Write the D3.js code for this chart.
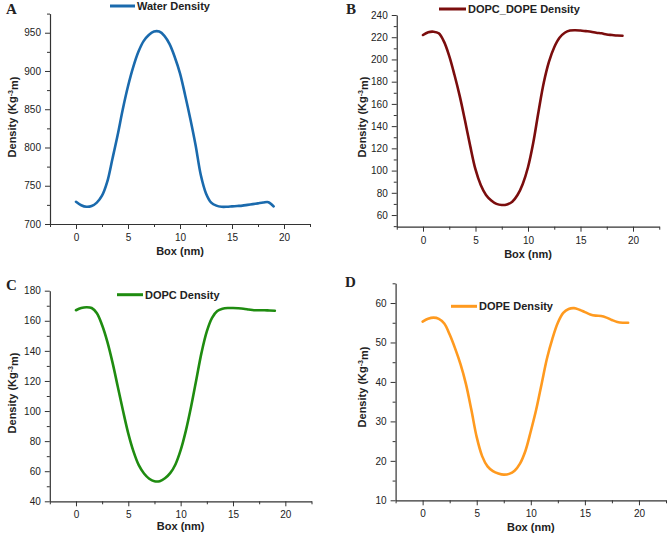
<!DOCTYPE html>
<html>
<head>
<meta charset="utf-8">
<script src="https://cdn.jsdelivr.net/npm/d3@7"></script>
<style>
  html, body { margin: 0; padding: 0; background: #fff; }
  svg { display: block; }
  text { font-family: "Liberation Sans", Arial, sans-serif; fill: #222; }
</style>
</head>
<body>
<svg id="chart" width="668" height="537"></svg>
<script>
// ---- Data ----
const boxNm = [0,0.5,1,1.5,2,2.5,3,3.5,4,4.5,5,5.5,6,6.5,7,7.5,8,8.5,9,9.5,10,10.5,11,11.5,12,12.5,13,13.5,14,14.5,15,15.5,16,16.5,17,17.5,18,18.5,19];

const waterDensity = [729,724.5,722.5,723.5,728,737,755,785,816,850,880,905,925,939,947,951.5,951.5,946,935,918,897,868,837,803,764,740,728,724,722.5,722.5,723,723.5,724,725,726,727,728,728.5,723];

const dopcDopeDensity = [222,224.5,225,223.5,216,203,186,167,145,122,101,87,78,73,70,69,69.5,72,78,88,103,125,153,179,198,211,219.5,224,226,226.3,226,225.5,225,224,223.5,222.5,222,221.5,221.3];

const dopcDensity = [167,168.5,169,168.5,165,157,146,132,116,100,85,73,64,58.5,55,53.3,53.4,55.3,58.7,64.5,74,87,103,121,139,153,162,166.5,168,168.5,168.5,168.3,168,167.5,167,167,167,166.8,166.7];

const dopeDensity = [55.3,56,56.3,56,54.8,52,48.5,44.5,39.5,33,26,21.2,18.6,17.4,16.8,16.5,16.7,17.5,19.3,22.5,27.5,33,39.5,46,51,55,57.5,58.5,58.7,58.3,57.7,57.1,56.8,56.7,56.3,55.7,55.2,55,55];

const seriesNames = ["Water Density", "DOPC_DOPE Density", "DOPC Density", "DOPE Density"];
const panelLetters = ["A", "B", "C", "D"];
const xTickValues = [0, 5, 10, 15, 20];
const xMinorTicks = [-2.5, 2.5, 7.5, 12.5, 17.5, 22.5];
const yTicksA = [700, 750, 800, 850, 900, 950];
const yMinorA = [725, 775, 825, 875, 925, 975];
const yTicksB = [60, 80, 100, 120, 140, 160, 180, 200, 220, 240];
const yMinorB = [50, 70, 90, 110, 130, 150, 170, 190, 210, 230];
const yTicksC = [40, 60, 80, 100, 120, 140, 160, 180];
const yMinorC = [50, 70, 90, 110, 130, 150, 170];
const yTicksD = [10, 20, 30, 40, 50, 60];
const yMinorD = [15, 25, 35, 45, 55, 65];

// ---- Layout ----
const panels = [
  { values: waterDensity, name: seriesNames[0], letter: panelLetters[0], color: "#1a6aad",
    yDomain: [700, 975], yTicks: yTicksA, yMinor: yMinorA,
    x0: 50, x1: 310, y0: 224, y1: 13.6,
    letterPos: [6, 14], legend: [110, 135, 6], yTitle: [12, 117], xTitleY: 255 },
  { values: dopcDopeDensity, name: seriesNames[1], letter: panelLetters[1], color: "#7b0d0d",
    yDomain: [49.5, 240], yTicks: yTicksB, yMinor: yMinorB,
    x0: 396.75, x1: 659.25, y0: 226.7, y1: 15,
    letterPos: [346, 14], legend: [439, 466, 9], yTitle: [362, 117], xTitleY: 258 },
  { values: dopcDensity, name: seriesNames[2], letter: panelLetters[2], color: "#1f8c10",
    yDomain: [40, 180], yTicks: yTicksC, yMinor: yMinorC,
    x0: 49.8, x1: 311.5, y0: 501.3, y1: 290.7,
    letterPos: [6, 290], legend: [117, 143, 294.7], yTitle: [12, 393], xTitleY: 530 },
  { values: dopeDensity, name: seriesNames[3], letter: panelLetters[3], color: "#ff9a1f",
    yDomain: [10, 65], yTicks: yTicksD, yMinor: yMinorD,
    x0: 395.6, x1: 666, y0: 500.3, y1: 283.3,
    letterPos: [345, 287], legend: [451, 477, 306.3], yTitle: [362, 387], xTitleY: 531 }
];

const svg = d3.select("#chart");

panels.forEach(p => {
  const x = d3.scaleLinear().domain([-2.5, 22.5]).range([p.x0, p.x1]);
  const y = d3.scaleLinear().domain(p.yDomain).range([p.y0, p.y1]);
  const g = svg.append("g");

  // minor ticks
  g.append("g").attr("transform", `translate(0,${p.y0})`)
    .call(d3.axisBottom(x).tickValues(xMinorTicks).tickSize(3).tickFormat(""))
    .call(a => a.select(".domain").remove());
  g.append("g").attr("transform", `translate(${p.x0},0)`)
    .call(d3.axisLeft(y).tickValues(p.yMinor).tickSize(3).tickFormat(""))
    .call(a => a.select(".domain").remove());

  // major axes
  const xa = g.append("g").attr("transform", `translate(0,${p.y0})`)
    .call(d3.axisBottom(x).tickValues(xTickValues).tickSize(5).tickPadding(5).tickSizeOuter(0));
  const ya = g.append("g").attr("transform", `translate(${p.x0},0)`)
    .call(d3.axisLeft(y).tickValues(p.yTicks).tickSize(5).tickPadding(4).tickSizeOuter(0));
  [xa, ya].forEach(a => {
    a.selectAll("text").style("font-size", "10px").style("font-family", "Liberation Sans, Arial, sans-serif").attr("fill", "#222");
    a.select(".domain").attr("stroke", "#333").attr("stroke-width", 1.2);
  });
  g.selectAll("line").attr("stroke", "#333");

  // curve
  const line = d3.line()
    .x((d, i) => x(boxNm[i]))
    .y(d => y(d))
    .curve(d3.curveCatmullRom.alpha(0.5));
  g.append("path").datum(p.values)
    .attr("d", line)
    .attr("fill", "none")
    .attr("stroke", p.color)
    .attr("stroke-width", 2.6)
    .attr("stroke-linejoin", "round")
    .attr("stroke-linecap", "round");

  // axis titles
  g.append("text")
    .attr("x", (x(0) + x(20)) / 2).attr("y", p.xTitleY)
    .attr("text-anchor", "middle")
    .style("font-size", "11px").style("font-weight", "bold")
    .text("Box (nm)");
  const yt = g.append("text")
    .attr("transform", `translate(${p.yTitle[0]},${p.yTitle[1]}) rotate(-90)`)
    .attr("text-anchor", "middle").attr("dy", "0.35em")
    .style("font-size", "11px").style("font-weight", "bold");
  yt.append("tspan").text("Density (Kg");
  yt.append("tspan").attr("dy", "-0.45em").style("font-size", "7px").text("-3");
  yt.append("tspan").attr("dy", "0.45em").text("m)");

  // legend
  g.append("line")
    .attr("x1", p.legend[0]).attr("x2", p.legend[1])
    .attr("y1", p.legend[2]).attr("y2", p.legend[2])
    .attr("stroke", p.color).attr("stroke-width", 3);
  g.append("text")
    .attr("x", p.legend[1] + 2).attr("y", p.legend[2]).attr("dy", "0.36em")
    .style("font-size", "11px").style("font-weight", "bold")
    .text(p.name);

  // panel letter
  g.append("text")
    .attr("x", p.letterPos[0]).attr("y", p.letterPos[1])
    .style("font-family", "Liberation Serif, 'Times New Roman', serif")
    .style("font-size", "15px").style("font-weight", "bold")
    .text(p.letter);
});
</script>
</body>
</html>
